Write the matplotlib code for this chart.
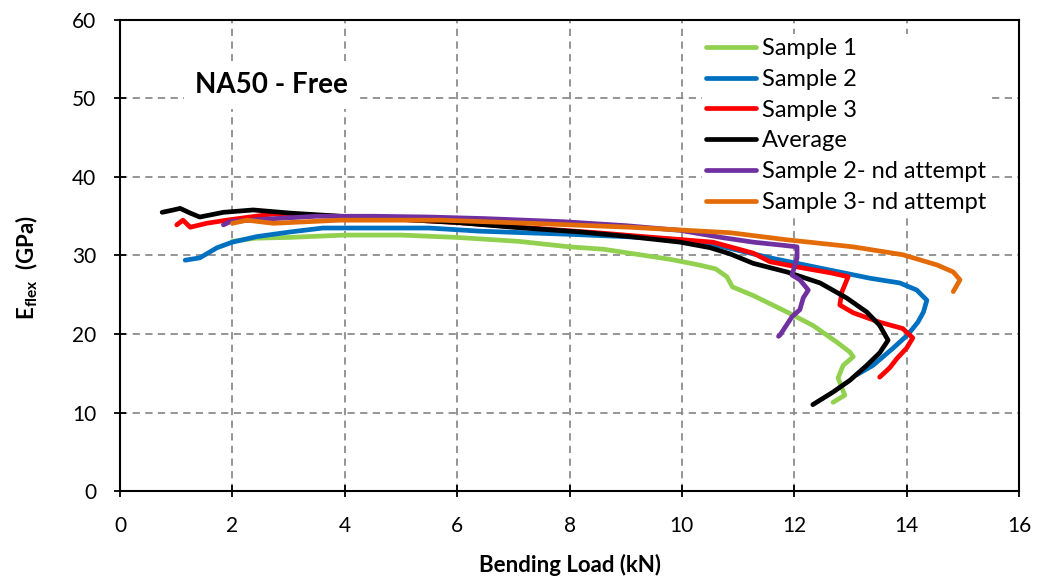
import matplotlib
matplotlib.use("Agg")
import matplotlib.pyplot as plt

plt.rcParams['font.family'] = ['Lato', 'DejaVu Sans']

# Bending load (kN) and flexural modulus (GPa) for each test
s1_load = [2.0, 2.4, 3.0, 4.0, 5.0, 6.0, 7.1, 8.0, 8.6, 9.25, 9.8, 10.3, 10.6, 10.8, 10.9,
           11.27, 11.87, 12.33, 12.75, 12.99, 13.05, 12.87, 12.78, 12.85, 12.9, 12.69]
s1_eflex = [31.8, 32.2, 32.3, 32.6, 32.6, 32.3, 31.8, 31.1, 30.8, 30.1, 29.5, 28.8, 28.3, 27.3, 26.0,
            24.9, 22.8, 21.1, 19.0, 17.7, 17.1, 16.0, 14.4, 13.1, 12.2, 11.3]

s2_load = [1.16, 1.42, 1.73, 2.0, 2.43, 3.03, 3.61, 4.5, 5.5, 6.4, 8.0, 9.0, 9.97, 10.68, 11.57,
           12.46, 13.35, 13.88, 14.18, 14.36, 14.3, 14.2, 14.02, 13.76, 13.4, 13.11]
s2_eflex = [29.4, 29.7, 31.0, 31.7, 32.4, 33.0, 33.5, 33.5, 33.5, 33.1, 32.7, 32.4, 32.0, 31.2, 29.7,
            28.4, 27.1, 26.5, 25.6, 24.3, 22.8, 21.5, 19.9, 18.2, 16.0, 14.8]

s3_load = [1.01, 1.12, 1.25, 1.54, 1.9, 2.31, 2.73, 3.5, 4.5, 6.0, 7.5, 8.49, 9.5, 10.55, 11.27,
           11.57, 12.16, 12.64, 12.96, 12.85, 12.81, 13.05, 13.52, 13.93, 14.11, 14.0, 13.83,
           13.7, 13.52]
s3_eflex = [33.9, 34.5, 33.6, 34.1, 34.5, 34.9, 35.3, 35.1, 34.8, 34.2, 33.4, 32.9, 32.3, 31.7, 30.3,
            29.2, 28.4, 27.8, 27.3, 25.4, 23.7, 22.7, 21.5, 20.7, 19.5, 18.2, 16.9,
            15.7, 14.5]

avg_load = [0.75, 0.95, 1.07, 1.25, 1.42, 1.84, 2.37, 3.03, 3.92, 5.0, 6.0, 7.0, 8.19, 9.08, 9.97,
            10.5, 10.86, 11.27, 11.87, 12.46, 12.93, 13.29, 13.52, 13.67, 13.52, 13.29, 12.99,
            12.69, 12.33]
avg_eflex = [35.5, 35.8, 36.0, 35.4, 34.9, 35.5, 35.8, 35.4, 35.0, 34.6, 34.2, 33.6, 33.0, 32.4, 31.7,
             31.0, 30.2, 29.0, 27.9, 26.5, 24.6, 22.8, 21.1, 19.2, 17.6, 16.0, 14.1,
             12.6, 11.0]

s2b_load = [1.84, 1.96, 2.5, 3.5, 4.5, 5.5, 6.5, 7.9, 9.0, 9.97, 10.7, 11.27, 11.8, 12.05, 12.05,
            11.96, 12.1, 12.25, 12.16, 12.1, 11.96, 11.75, 11.72]
s2b_eflex = [33.9, 34.3, 34.6, 35.0, 35.0, 34.9, 34.7, 34.3, 33.8, 33.2, 32.3, 31.7, 31.3, 31.1, 29.7,
             27.5, 26.9, 25.6, 24.6, 23.1, 22.2, 19.9, 19.7]

s3b_load = [2.0, 2.26, 2.73, 3.92, 5.7, 7.3, 9.08, 10.86, 11.87, 13.05, 13.93, 14.54, 14.83, 14.95, 14.83]
s3b_eflex = [34.1, 34.5, 34.1, 34.5, 34.5, 34.1, 33.6, 32.9, 32.0, 31.1, 30.1, 28.8, 27.9, 26.9, 25.4]

series = [
    ("Sample 1", s1_load, s1_eflex, "#92D050"),
    ("Sample 2", s2_load, s2_eflex, "#0070C0"),
    ("Sample 3", s3_load, s3_eflex, "#FF0000"),
    ("Average", avg_load, avg_eflex, "#000000"),
    ("Sample 2- nd attempt", s2b_load, s2b_eflex, "#7030A0"),
    ("Sample 3- nd attempt", s3b_load, s3b_eflex, "#E36C09"),
]

x_ticks = [0, 2, 4, 6, 8, 10, 12, 14, 16]
y_ticks = [0, 10, 20, 30, 40, 50, 60]

fig = plt.figure(figsize=(10.4, 5.81), dpi=100)
ax = fig.add_axes([0.1154, 0.1549, 0.8644, 0.8107])

for label, xs, ys, color in series:
    ax.plot(xs, ys, color=color, lw=3.4, label=label, solid_joinstyle='round',
            solid_capstyle='round')

ax.set_xlim(0, 16)
ax.set_ylim(0, 60)
ax.set_xticks(x_ticks)
ax.set_yticks(y_ticks)
ax.grid(True, color='#8c8c8c', linestyle=(0, (4, 3)), linewidth=1.3)
ax.set_axisbelow(True)
for sp in ax.spines.values():
    sp.set_linewidth(1.5)
    sp.set_color('black')
ax.tick_params(axis='both', direction='inout', length=8, width=1.3, labelsize=15,
               colors='black')
ax.tick_params(axis='x', pad=14)
ax.tick_params(axis='y', pad=13)

ax.set_xlabel("Bending Load (kN)", fontsize=16, fontweight='bold', labelpad=13)
ax.set_ylabel(r"E$_{\mathregular{flex}}$  (GPa)", fontsize=16, fontweight='bold')
ax.yaxis.set_label_coords(-0.089, 0.474)

ax.text(0.0834, 0.862, "NA50 - Free", transform=ax.transAxes, fontsize=20,
        fontweight='bold', va='center', ha='left',
        bbox=dict(facecolor='white', edgecolor='none', pad=8))

leg = ax.legend(loc='upper left', bbox_to_anchor=(0.647, 0.971), fontsize=17,
                frameon=True, fancybox=False, framealpha=1, edgecolor='none',
                handlelength=2.1, handletextpad=0.25, labelspacing=0.41,
                borderaxespad=0, borderpad=0.2)

fig.savefig("out.png", dpi=100)
